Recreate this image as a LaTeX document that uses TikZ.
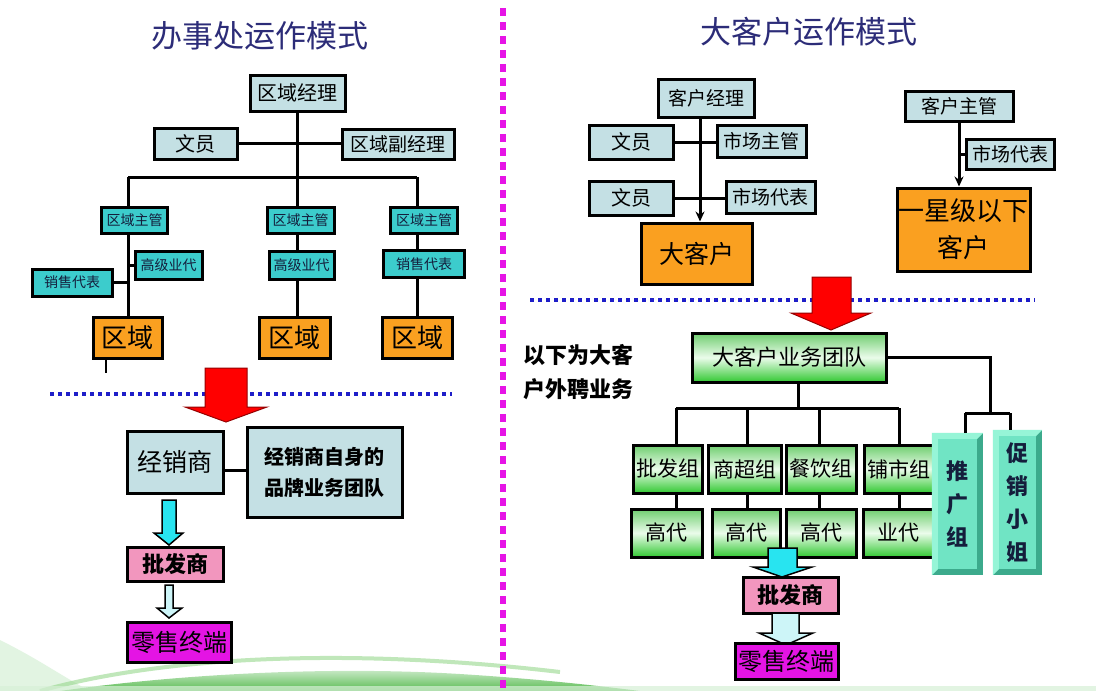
\documentclass[tikz,border=0pt]{standalone}
\usepackage{fontspec}
\newfontfamily\cjk{Noto Sans CJK SC}
\usetikzlibrary{arrows.meta,calc}
\definecolor{boxblue}{RGB}{196,224,228}
\definecolor{tealb}{RGB}{60,204,204}
\definecolor{orng}{RGB}{250,160,32}
\definecolor{pnk}{RGB}{242,150,190}
\definecolor{mgt}{RGB}{228,20,228}
\definecolor{ttl}{RGB}{44,44,120}
\definecolor{dotblue}{RGB}{30,30,200}
\definecolor{dotmag}{RGB}{230,20,230}
\definecolor{grtop}{RGB}{110,205,110}
\definecolor{grmid}{RGB}{235,252,235}
\definecolor{grbot}{RGB}{50,200,50}
\definecolor{bevdark}{RGB}{60,170,140}
\definecolor{bevlight}{RGB}{150,245,215}
\definecolor{bevface}{RGB}{112,228,196}
\definecolor{smtext}{RGB}{20,30,60}
\definecolor{cyanar}{RGB}{40,228,240}
\definecolor{lightar}{RGB}{205,245,248}
\definecolor{swooshA}{RGB}{150,215,140}
\definecolor{swooshB}{RGB}{60,175,50}
\definecolor{swooshC}{RGB}{215,240,215}
\newcommand\fz[2]{\fontsize{#1}{#2}\selectfont}
\tikzset{
  bx/.style={draw=black, line width=3pt, inner sep=0pt, text=black, align=center},
  sz/.style 2 args={minimum width=#1pt, minimum height=#2pt},
  lb/.style={bx, fill=boxblue},
  sm/.style={bx, fill=tealb, text=smtext, font=\cjk\fz{14}{16}},
  og/.style={bx, fill=orng},
  grn/.style={bx, top color=grtop, bottom color=grbot, middle color=grmid},
  pk/.style={bx, fill=pnk},
  mg/.style={bx, fill=mgt},
  ln/.style={line width=3pt, draw=black},
  tip/.style={-{Stealth[length=10pt,width=9pt]}},
  bev/.style={fill=bevdark, inner sep=0pt},
  redar/.style={fill=red, draw={rgb,255:red,150;green,0;blue,0}, line width=1pt},
  cyar/.style={fill=cyanar, draw=black, line width=1.5pt},
  ltar/.style={fill=lightar, draw=black, line width=1.5pt},
  dotb/.style={draw=dotblue, line width=4pt, dash pattern=on 4pt off 4pt},
}
\begin{document}
\begin{tikzpicture}[x=1pt,y=-1pt]
\useasboundingbox (0,0) rectangle (1096,691);
\fill[white] (0,0) rectangle (1096,691);
% background swoosh
\fill[swooshC, opacity=0.7] (0,691) -- (0,640) .. controls (40,660) and (60,675) .. (90,691) -- cycle;
\draw[swooshA, line width=4pt, opacity=0.6] (40,691) .. controls (150,660) and (330,645) .. (560,672);
\shade[top color=swooshC, bottom color=swooshB, opacity=0.85] (60,691) .. controls (180,674) and (330,666) .. (460,674) .. controls (540,679) and (600,686) .. (640,691) -- cycle;
\fill[swooshC, opacity=0.7] (0,686) rectangle (1096,691);

% titles
\node[font=\cjk\fz{31}{36}, text=ttl] (tl) at (260,36) {办事处运作模式};
\node[font=\cjk\fz{31}{36}, text=ttl] (tr) at (809,32) {大客户运作模式};
% divider
\draw[draw=dotmag, line width=6pt, dash pattern=on 8pt off 6pt] (503,8) -- (503,691);

% ================= LEFT =================
\node[lb, sz={95}{36}, font=\cjk\fz{20}{24}] (jl) at (297.5,93) {区域经理};
\node[lb, sz={83}{31}, font=\cjk\fz{20}{24}] (wy1) at (195.5,143.5) {文员};
\node[lb, sz={112}{30}, font=\cjk\fz{19}{22}] (fjl) at (398,144) {区域副经理};
\coordinate (b1) at (128,177);
\coordinate (b2) at (297.5,177);
\coordinate (b3) at (417,177);
\node[sm, sz={66}{26}] (zg1) at (134.5,220) {区域主管};
\node[sm, sz={67}{26}] (zg2) at (300.5,220) {区域主管};
\node[sm, sz={67}{26}] (zg3) at (424,220) {区域主管};
\node[sm, sz={67}{28}] (gj1) at (168.5,265) {高级业代};
\node[sm, sz={65}{28}] (gj2) at (301.5,265) {高级业代};
\node[sm, sz={81}{27}] (xs3) at (424,264) {销售代表};
\node[sm, sz={80}{27}] (xs1) at (72,282.5) {销售代表};
\node[og, sz={69}{41}, font=\cjk\fz{26}{30}] (qy1) at (127.5,337.5) {区域};
\node[og, sz={71}{41}, font=\cjk\fz{26}{30}] (qy2) at (294.5,337.5) {区域};
\node[og, sz={70}{41}, font=\cjk\fz{26}{30}] (qy3) at (417,337.5) {区域};
\coordinate (t1c) at (106,373);

\draw[ln] (jl.south) -- (b2);
\draw[ln] (b1) -- (b3);
\draw[ln] (wy1.east) -- (wy1.east -| fjl.west);
\draw[ln] (b1) -- (b1 |- zg1.north);
\draw[ln] (b2) -- (b2 |- zg2.north);
\draw[ln] (b3) -- (b3 |- zg3.north);
\draw[ln] (b1 |- zg1.south) -- (b1 |- qy1.north);
\draw[ln] (b1 |- gj1.west) -- (gj1.west);
\draw[ln] (xs1.east) -- (b1 |- xs1.east);
\draw[ln] (b2 |- zg2.south) -- (b2 |- gj2.north);
\draw[ln] (b2 |- gj2.south) -- (b2 |- qy2.north);
\draw[ln] (b3 |- zg3.south) -- (b3 |- xs3.north);
\draw[ln] (b3 |- xs3.south) -- (b3 |- qy3.north);
\draw[line width=1.2pt] (t1c |- qy1.south) -- (t1c);

\draw[dotb] (50,394) -- (452,394);
\draw[redar] (205,368) -- (247,368) -- (247,407) -- (267,407) -- (226,422) -- (185,407) -- (205,407) -- cycle;

\node[lb, sz={96}{62}, font=\cjk\fz{25}{30}] (jxs) at (175,462) {经销商};
\node[lb, sz={155}{90}, font=\cjk\bfseries\fz{20}{31}] (ppt) at (324.5,472) {经销商自身的\\品牌业务团队};
\draw[ln] ([yshift=-8pt]jxs.east) -- ([yshift=-8pt]jxs.east -| ppt.west);
\node[pk, sz={96}{34}, font=\cjk\bfseries\fz{22}{26}] (pfs1) at (175,564) {批发商};
\node[mg, sz={104}{40}, font=\cjk\fz{24}{28}] (lsz1) at (179,642) {零售终端};
\draw[cyar] (162,500) -- (176,500) -- (176,533) -- (183,533) -- (169,545) -- (154,533) -- (162,533) -- cycle;
\draw[ltar] (165,585) -- (173,585) -- (173,608) -- (182,608) -- (169,618) -- (157,608) -- (165,608) -- cycle;

% ================= RIGHT =================
\node[lb, sz={96}{38}, font=\cjk\fz{19}{22}] (kjl) at (706,98) {客户经理};
\node[lb, sz={84}{34}, font=\cjk\fz{20}{24}] (wy2) at (631,142) {文员};
\node[lb, sz={89}{32}, font=\cjk\fz{19}{22}] (sczg) at (761.5,141) {市场主管};
\node[lb, sz={84}{34}, font=\cjk\fz{20}{24}] (wy3) at (631,198) {文员};
\node[lb, sz={89}{32}, font=\cjk\fz{19}{22}] (scdb) at (770.5,197) {市场代表};
\node[og, sz={111}{61}, font=\cjk\fz{25}{30}] (dkh) at (696.5,253.5) {大客户};
\coordinate (v1) at (700,117);
\draw[ln] (wy2.east) -- (wy2.east -| sczg.west);
\draw[ln] (wy3.east) -- (wy3.east -| scdb.west);
\draw[ln, tip] (v1 |- kjl.south) -- (v1 |- dkh.north);

\node[lb, sz={108}{30}, font=\cjk\fz{19}{22}] (khzg) at (959,106) {客户主管};
\node[lb, sz={88}{30}, font=\cjk\fz{19}{22}] (scdb2) at (1010,154) {市场代表};
\node[og, sz={133}{83}, font=\cjk\fz{26}{37}] (yxj) at (963.5,229.5) {一星级以下\\客户};
\draw[ln, tip] (khzg.south) -- (khzg.south |- yxj.north);
\draw[ln] (khzg.south |- scdb2.west) -- (scdb2.west);

\draw[dotb] (530,300) -- (1035,300);
\draw[redar] (812,277) -- (851,277) -- (851,313) -- (871,313) -- (831,330) -- (791,313) -- (812,313) -- cycle;

\node[grn, sz={194}{49}, font=\cjk\fz{22}{26}] (team) at (789,357.5) {大客户业务团队};
\node[font=\cjk\bfseries\fz{22}{34}, align=left, inner sep=0pt] (lbl) at (578,372) {以下为大客\\户外聘业务};

\coordinate (tb) at (798,408);
\coordinate (d1) at (676,408);
\coordinate (d2) at (747,408);
\coordinate (d3) at (819,408);
\coordinate (d4) at (899,408);
\coordinate (r1) at (990,413);
\coordinate (p1) at (965,413);
\coordinate (p2) at (1010,413);

\node[grn, sz={69}{48}, font=\cjk\fz{21}{25}] (pfz) at (667.5,469) {批发组};
\node[grn, sz={73}{48}, font=\cjk\fz{21}{25}] (scz) at (744.5,469) {商超组};
\node[grn, sz={70}{48}, font=\cjk\fz{21}{25}] (cyz) at (821,469) {餐饮组};
\node[grn, sz={70}{48}, font=\cjk\fz{21}{25}] (psz) at (899,469) {铺市组};
\node[grn, sz={71}{48}, font=\cjk\fz{21}{25}] (gd1) at (666.5,533) {高代};
\node[grn, sz={68}{48}, font=\cjk\fz{21}{25}] (gd2) at (746,533) {高代};
\node[grn, sz={70}{48}, font=\cjk\fz{21}{25}] (gd3) at (821,533) {高代};
\node[grn, sz={70}{48}, font=\cjk\fz{21}{25}] (yd) at (898,533) {业代};

\draw[ln] (tb |- team.south) -- (tb);
\draw[ln] (d1) -- (d4);
\draw[ln] (d1) -- (d1 |- pfz.north);
\draw[ln] (d2) -- (d2 |- scz.north);
\draw[ln] (d3) -- (d3 |- cyz.north);
\draw[ln] (d4) -- (d4 |- psz.north);
\draw[ln] (d1 |- pfz.south) -- (d1 |- gd1.north);
\draw[ln] (d2 |- scz.south) -- (d2 |- gd2.north);
\draw[ln] (d3 |- cyz.south) -- (d3 |- gd3.north);
\draw[ln] (d4 |- psz.south) -- (d4 |- yd.north);

% 3D blocks
\node[bev, sz={51}{142}] (tgz) at (957.5,504) {};
\fill[bevlight] (tgz.north west) -- (tgz.north east) -- ($(tgz.north east)+(-6,6)$) -- ($(tgz.south west)+(6,-6)$) -- (tgz.south west) -- cycle;
\fill[bevface] ($(tgz.north west)+(6,6)$) rectangle ($(tgz.south east)+(-6,-6)$);
\node[font=\cjk\bfseries\fz{22}{33}, text=smtext, align=center] at (tgz) {推\\广\\组};
\node[bev, sz={49}{145}] (cxj) at (1017.5,502.5) {};
\fill[bevlight] (cxj.north west) -- (cxj.north east) -- ($(cxj.north east)+(-6,6)$) -- ($(cxj.south west)+(6,-6)$) -- (cxj.south west) -- cycle;
\fill[bevface] ($(cxj.north west)+(6,6)$) rectangle ($(cxj.south east)+(-6,-6)$);
\node[font=\cjk\bfseries\fz{22}{33}, text=smtext, align=center] at (cxj) {促\\销\\小\\姐};

\draw[ln] (team.east) -| (r1);
\draw[ln] (p1) -- (p2);
\draw[ln] (p1) -- (p1 |- tgz.north);
\draw[ln] (p2) -- (p2 |- cxj.north);

\draw[cyar] (768,548) -- (797,548) -- (797,567) -- (812,567) -- (782,577) -- (753,567) -- (768,567) -- cycle;
\node[pk, sz={95}{36}, font=\cjk\bfseries\fz{22}{26}] (pfs2) at (790.5,595) {批发商};
\draw[ltar] (772,613) -- (799,613) -- (799,633) -- (813,633) -- (786,645) -- (759,633) -- (772,633) -- cycle;
\node[mg, sz={103}{36}, font=\cjk\fz{24}{28}] (lsz2) at (786.5,661) {零售终端};
\end{tikzpicture}
\end{document}
